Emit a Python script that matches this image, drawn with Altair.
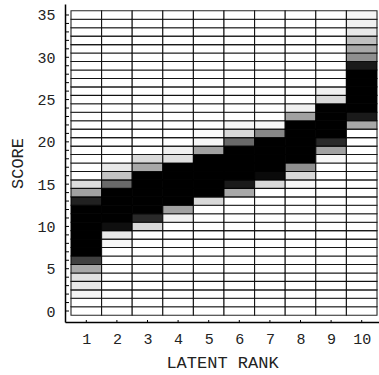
import altair as alt
import pandas as pd

scores = list(range(36))
ranks = list(range(1, 11))
y_tick_labels = [0, 5, 10, 15, 20, 25, 30, 35]

# membership intensity (0 = white, 1 = black) for score 0..35 in each latent rank
rank1 = [0, 0, 0.04, 0.09, 0.12, 0.34, 0.75, 1, 1, 1, 1, 1, 1, 0.87, 0.37, 0.13,
         0, 0, 0, 0, 0, 0, 0, 0, 0, 0, 0, 0, 0, 0, 0, 0, 0, 0, 0, 0]
rank2 = [0, 0, 0, 0, 0, 0, 0, 0, 0.03, 0.09, 0.94, 1, 1, 1, 1, 0.59, 0.23, 0.09,
         0, 0, 0, 0, 0, 0, 0, 0, 0, 0, 0, 0, 0, 0, 0, 0, 0, 0]
rank3 = [0, 0, 0, 0, 0, 0, 0, 0, 0, 0, 0.15, 0.84, 1, 1, 1, 1, 1, 0.34, 0.15,
         0, 0, 0, 0, 0, 0, 0, 0, 0, 0, 0, 0, 0, 0, 0, 0, 0]
rank4 = [0, 0, 0, 0, 0, 0, 0, 0, 0, 0, 0, 0.06, 0.37, 1, 1, 1, 1, 1, 0.13, 0.06,
         0, 0, 0, 0, 0, 0, 0, 0, 0, 0, 0, 0, 0, 0, 0, 0]
rank5 = [0, 0, 0, 0, 0, 0, 0, 0, 0, 0, 0, 0, 0, 0.15, 1, 1, 1, 1, 1, 0.37, 0.03, 0.02,
         0, 0, 0, 0, 0, 0, 0, 0, 0, 0, 0, 0, 0, 0]
rank6 = [0, 0, 0, 0, 0, 0, 0, 0, 0, 0, 0, 0, 0, 0, 0.34, 0.9, 1, 1, 1, 1, 0.59, 0.15, 0.03,
         0, 0, 0, 0, 0, 0, 0, 0, 0, 0, 0, 0, 0]
rank7 = [0, 0, 0, 0, 0, 0, 0, 0, 0, 0, 0, 0, 0, 0, 0, 0.15, 0.96, 1, 1, 1, 1, 0.47, 0.03,
         0, 0, 0, 0, 0, 0, 0, 0, 0, 0, 0, 0, 0]
rank8 = [0, 0, 0, 0, 0, 0, 0, 0, 0, 0, 0, 0, 0, 0, 0, 0.03, 0.15, 0.44, 1, 1, 1, 1, 1, 0.37, 0.06,
         0, 0, 0, 0, 0, 0, 0, 0, 0, 0, 0]
rank9 = [0, 0, 0, 0, 0, 0, 0, 0, 0, 0, 0, 0, 0, 0, 0, 0, 0, 0, 0.03, 0.37, 0.84, 1, 1, 1, 1, 0.15, 0.06,
         0, 0, 0, 0, 0, 0, 0, 0, 0]
rank10 = [0, 0, 0, 0, 0, 0, 0, 0, 0, 0, 0, 0, 0, 0, 0, 0, 0, 0, 0, 0, 0, 0, 0.34, 0.9, 1, 1, 1, 1, 1,
          0.9, 0.44, 0.34, 0.25, 0.09, 0.06, 0.04]

columns = [rank1, rank2, rank3, rank4, rank5, rank6, rank7, rank8, rank9, rank10]
rows = []
for r, col in zip(ranks, columns):
    for s, v in zip(scores, col):
        rows.append({"rank": r, "score": s, "value": v})
df = pd.DataFrame(rows)

FONT = "Liberation Mono"
xscale = alt.Scale(domain=[0.304, 10.565], nice=False, zero=False)
yscale = alt.Scale(domain=[-1.30, 36.30], nice=False, zero=False)

xaxis = alt.Axis(values=ranks, tickSize=0, labelPadding=9, grid=False,
                 labelOverlap=False, labelFlush=False,
                 domainColor="#000000", domainWidth=1.5,
                 title="LATENT RANK", titlePadding=8)
yaxis = alt.Axis(values=y_tick_labels, tickSize=0, labelPadding=10, grid=False,
                 labelOverlap=False, labelFlush=False,
                 domainColor="#000000", domainWidth=1.5,
                 title="SCORE", titlePadding=10)

cells = alt.Chart(df).transform_calculate(
    x0="datum.rank - 0.5", x1="datum.rank + 0.5",
    y0="datum.score - 0.5", y1="datum.score + 0.5",
).mark_rect(stroke="#000000", strokeWidth=1.1, strokeOpacity=0.85).encode(
    x=alt.X("x0:Q", scale=xscale, axis=xaxis),
    x2="x1:Q",
    y=alt.Y("y0:Q", scale=yscale, axis=yaxis),
    y2="y1:Q",
    color=alt.Color("value:Q", legend=None,
                    scale=alt.Scale(domain=[0, 1], range=["#ffffff", "#000000"],
                                    interpolate="rgb")),
)

ytick_df = pd.DataFrame({"score": scores})
yticks = alt.Chart(ytick_df).mark_rule(color="#000000", strokeWidth=1).encode(
    y=alt.Y("score:Q", scale=yscale, axis=yaxis),
    x=alt.value(0), x2=alt.value(4),
)

xtick_df = pd.DataFrame({"rank": ranks})
xticks = alt.Chart(xtick_df).mark_rule(color="#000000", strokeWidth=1).encode(
    x=alt.X("rank:Q", scale=xscale, axis=xaxis),
    y=alt.value(316), y2=alt.value(318),
)

chart = alt.layer(cells, yticks, xticks).properties(
    width=314, height=318,
    autosize=alt.AutoSizeParams(type="none"),
    padding={"left": 65, "top": 4, "right": 0, "bottom": 53},
    background="#ffffff",
).configure_view(stroke=None).configure_axis(
    labelFont=FONT, labelFontSize=15, labelColor="#222222", labelOverlap=False,
    titleFont=FONT, titleFontSize=17, titleFontWeight="normal", titleColor="#222222",
)

chart.save("out.html", embed_options={"renderer": "svg", "actions": False})
